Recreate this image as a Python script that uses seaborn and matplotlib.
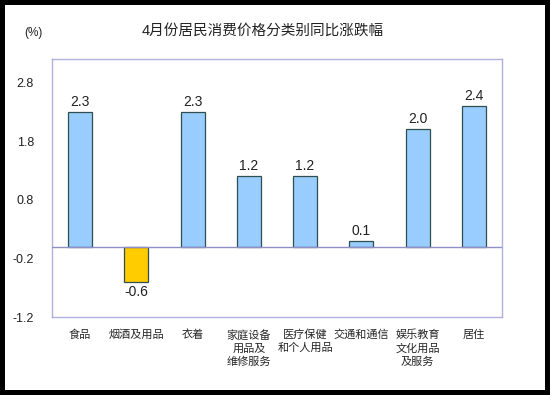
import numpy as np
import pandas as pd
import matplotlib.pyplot as plt
import seaborn as sns

categories = ['食品', '烟酒及用品', '衣着', '家庭设备\n用品及\n维修服务', '医疗保健\n和个人用品',
              '交通和通信', '娱乐教育\n文化用品\n及服务', '居住']
values = [2.3, -0.6, 2.3, 1.2, 1.2, 0.1, 2.0, 2.4]
yticks = [2.8, 1.8, 0.8, -0.2, -1.2]

sns.set_style('white')
plt.rcParams['font.family'] = ['Liberation Sans', 'Noto Sans CJK SC', 'DejaVu Sans']

df = pd.DataFrame({'cat': categories, 'val': values})
colors = ['#FFCC00' if v < 0 else '#99CCFF' for v in values]

fig = plt.figure(figsize=(5.5, 3.95), dpi=100)
fig.patch.set_facecolor('white')
fig.patch.set_edgecolor('black')
fig.patch.set_linewidth(7)
ax = fig.add_axes([52 / 550, 1 - 317 / 395, 450 / 550, 258 / 395])

sns.barplot(data=df, x='cat', y='val', hue='cat', palette=colors, legend=False,
            saturation=1, width=0.43, edgecolor='#2F4F4F', linewidth=0.9, ax=ax, zorder=3)

ax.set_ylim(-1.2, 3.2)
ax.set_xlim(-0.5, len(categories) - 0.5)
ax.set_yticks(yticks)
ax.set_yticklabels([f'{t:.1f}' for t in yticks], fontsize=9, color='#222222')
ax.tick_params(axis='y', length=3, color='#AAAACC', pad=10)
ax.tick_params(axis='x', length=0, pad=9)
ax.set_xticks(range(len(categories)))
ax.set_xticklabels(categories, fontsize=8, linespacing=1.35, va='top')
ax.set_xlabel('')
ax.set_ylabel('')
for s in ax.spines.values():
    s.set_color('#B0B0D8')
    s.set_linewidth(1)
ax.axhline(0, color='#9090C8', linewidth=1, zorder=4)

for i, v in enumerate(values):
    if v >= 0:
        ax.text(i, v + 0.05, f'{v:.1f}', ha='center', va='bottom', fontsize=10, color='#222222')
    else:
        ax.text(i, v - 0.05, f'{v:.1f}', ha='center', va='top', fontsize=10, color='#222222')

fig.text(263 / 550, 1 - 31 / 395, '4月份居民消费价格分类别同比涨跌幅', ha='center', va='center',
         fontsize=10.5, color='#222222')
fig.text(33 / 550, 1 - 33 / 395, '(%)', ha='center', va='center', fontsize=8.5, color='#222222')

fig.savefig('out.png', dpi=100, facecolor=fig.get_facecolor(), edgecolor=fig.get_edgecolor())
